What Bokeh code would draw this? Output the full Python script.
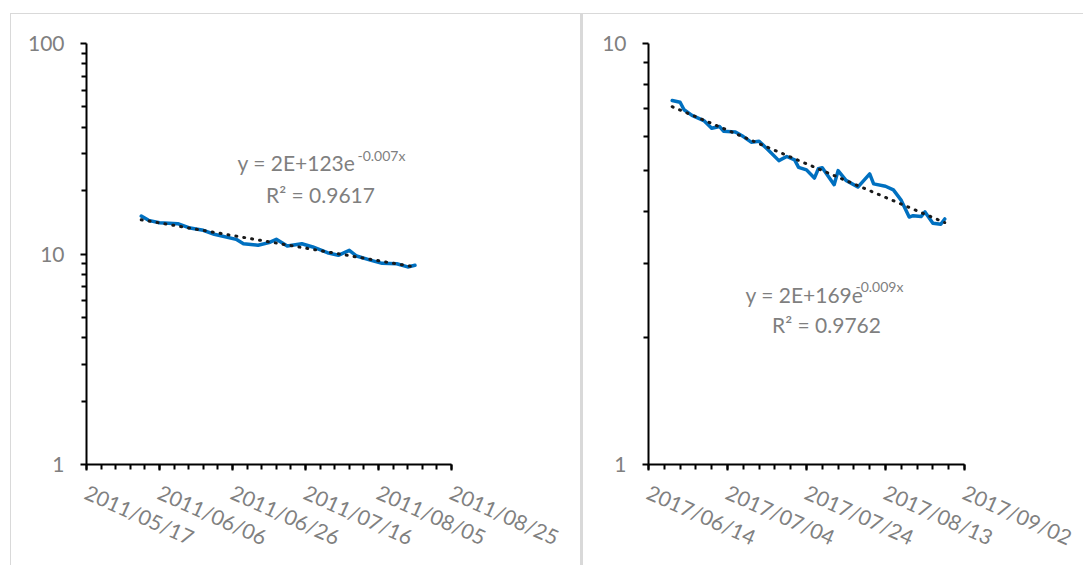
import numpy as np
import pandas as pd
from bokeh.plotting import figure
from bokeh.models import Range1d, FixedTicker, DatetimeTickFormatter, Label, BasicTickFormatter
from bokeh.layouts import row
from bokeh.embed import file_html
from bokeh.resources import INLINE

# ---------------- data ----------------
# Left chart (2011)
dates_2011 = ["2011-06-01", "2011-06-03", "2011-06-06", "2011-06-11", "2011-06-14",
              "2011-06-18", "2011-06-21", "2011-06-27", "2011-06-29", "2011-07-03",
              "2011-07-06", "2011-07-08", "2011-07-11", "2011-07-15", "2011-07-18",
              "2011-07-22", "2011-07-25", "2011-07-28", "2011-07-30", "2011-08-03",
              "2011-08-06", "2011-08-10", "2011-08-13", "2011-08-15"]
values_2011 = [15.15, 14.45, 14.08, 13.93, 13.33,
               12.96, 12.41, 11.74, 11.19, 11.00,
               11.32, 11.74, 10.91, 11.19, 10.80,
               10.14, 9.86, 10.41, 9.78, 9.33,
               9.03, 8.99, 8.68, 8.84]
x_start_2011, x_end_2011 = "2011-05-17", "2011-08-25"
y_ticks_2011 = [1, 10, 100]
eq_2011, exp_2011, r2_2011 = "y = 2E+123e", "-0.007x", "R² = 0.9617"

# Right chart (2017)
dates_2017 = ["2017-06-20", "2017-06-22", "2017-06-23", "2017-06-25", "2017-06-28",
              "2017-06-30", "2017-07-02", "2017-07-03", "2017-07-06", "2017-07-08",
              "2017-07-10", "2017-07-12", "2017-07-14", "2017-07-17", "2017-07-19",
              "2017-07-21", "2017-07-22", "2017-07-24", "2017-07-26", "2017-07-27",
              "2017-07-28", "2017-07-31", "2017-08-01", "2017-08-03", "2017-08-06",
              "2017-08-09", "2017-08-10", "2017-08-13", "2017-08-15", "2017-08-17",
              "2017-08-19", "2017-08-20", "2017-08-22", "2017-08-23", "2017-08-25",
              "2017-08-27", "2017-08-28"]
values_2017 = [7.32, 7.25, 6.96, 6.75, 6.56,
               6.29, 6.35, 6.19, 6.16, 6.01,
               5.83, 5.86, 5.62, 5.27, 5.39,
               5.29, 5.08, 5.01, 4.79, 5.04,
               5.07, 4.62, 4.99, 4.73, 4.56,
               4.90, 4.64, 4.58, 4.49, 4.24,
               3.87, 3.90, 3.88, 3.98, 3.74,
               3.72, 3.83]
x_start_2017, x_end_2017 = "2017-06-14", "2017-09-02"
y_ticks_2017 = [1, 10]
eq_2017, exp_2017, r2_2017 = "y = 2E+169e", "-0.009x", "R² = 0.9762"

FONT = "Lato"
GRAY = "#808080"
BLUE = "#0070C0"


def to_ms(ts):
    ts = pd.to_datetime(pd.Series(ts))
    return ((ts - pd.Timestamp("1970-01-01")) // pd.Timedelta("1ms")).astype(float).to_numpy()


def make_chart(dates, values, x0, x1, yticks, eq, ex, r2, width, mb_left, mb_right,
               eq_pos, ex_pos, r2_pos, top_grid=False):
    xs = to_ms(dates)
    ys = np.array(values, dtype=float)
    xr = to_ms([x0, x1])
    p = figure(width=width, height=552, x_axis_type="datetime", y_axis_type="log",
               x_range=Range1d(xr[0], xr[1]), y_range=Range1d(yticks[0], yticks[-1]),
               output_backend="svg", toolbar_location=None,
               min_border_left=mb_left, min_border_right=mb_right,
               min_border_top=29, min_border_bottom=102)
    p.outline_line_color = None
    p.background_fill_color = "white"
    p.border_fill_color = "white"

    # ticks
    majors = to_ms(pd.date_range(x0, x1, freq="20D"))
    minors = to_ms(pd.date_range(x0, x1, freq="4D"))
    p.xaxis.ticker = FixedTicker(ticks=list(majors), minor_ticks=list(minors))
    p.xaxis.formatter = DatetimeTickFormatter(days="%Y/%m/%d", months="%Y/%m/%d",
                                              years="%Y/%m/%d", hours="%Y/%m/%d")
    yminor = [m * t for t in yticks[:-1] for m in range(2, 10)]
    p.yaxis.ticker = FixedTicker(ticks=yticks, minor_ticks=yminor)
    p.yaxis.formatter = BasicTickFormatter()

    for ax in (p.xaxis[0], p.yaxis[0]):
        ax.axis_line_color = "black"
        ax.axis_line_width = 2
        ax.major_tick_line_color = "black"
        ax.minor_tick_line_color = "black"
        ax.major_tick_line_width = 2
        ax.minor_tick_line_width = 2
        ax.major_tick_in = 0
        ax.minor_tick_in = 0
        ax.major_tick_out = 6
        ax.minor_tick_out = 5
        ax.major_label_text_color = GRAY
        ax.major_label_text_font = FONT
        ax.major_label_text_font_size = "21px"
    p.yaxis.major_label_standoff = 16
    p.xaxis.major_label_standoff = 20
    p.xaxis.major_label_orientation = -0.42

    p.xgrid.visible = False
    if top_grid:
        p.ygrid.ticker = FixedTicker(ticks=[yticks[-1]])
        p.ygrid.grid_line_color = "#eeeeee"
        p.ygrid.grid_line_width = 2
    else:
        p.ygrid.visible = False

    # data line
    p.line(xs, ys, line_color=BLUE, line_width=3.5, line_join="round", line_cap="round")

    # exponential trendline (least-squares fit in log space)
    days = (xs - xs[0]) / 86400000.0
    b, a = np.polyfit(days, np.log(ys), 1)
    tx = np.linspace(xs[0], xs[-1], 50)
    ty = np.exp(a + b * (tx - xs[0]) / 86400000.0)
    p.line(tx, ty, line_color="#1a1a1a", line_width=3, line_dash="1 7", line_cap="round")

    # equation text
    common = dict(x_units="screen", y_units="screen", text_color="#7f7f7f",
                  text_font=FONT, text_baseline="alphabetic")
    p.add_layout(Label(x=eq_pos[0], y=eq_pos[1], text=eq, text_font_size="21px", **common))
    p.add_layout(Label(x=ex_pos[0], y=ex_pos[1], text=ex, text_font_size="14px", **common))
    p.add_layout(Label(x=r2_pos[0], y=r2_pos[1], text=r2, text_font_size="21px",
                       text_align="center", **common))
    return p


p1 = make_chart(dates_2011, values_2011, x_start_2011, x_end_2011, y_ticks_2011,
                eq_2011, exp_2011, r2_2011, width=572, mb_left=75, mb_right=132,
                eq_pos=(151, 302), ex_pos=(271, 309), r2_pos=(234, 270))
p2 = make_chart(dates_2017, values_2017, x_start_2017, x_end_2017, y_ticks_2017,
                eq_2017, exp_2017, r2_2017, width=501, mb_left=65, mb_right=120,
                eq_pos=(97, 170), ex_pos=(207, 178), r2_pos=(178, 140), top_grid=True)

p1.styles = {"border-top": "1px solid #d9d9d9", "border-left": "1px solid #d9d9d9",
             "border-right": "2px solid #d9d9d9"}
p2.styles = {"border-top": "1px solid #d9d9d9", "border-left": "1px solid #d9d9d9"}

layout = row(p1, p2, styles={"margin-left": "10px", "margin-top": "13px"})

open("out.html", "w").write(file_html(layout, INLINE))
